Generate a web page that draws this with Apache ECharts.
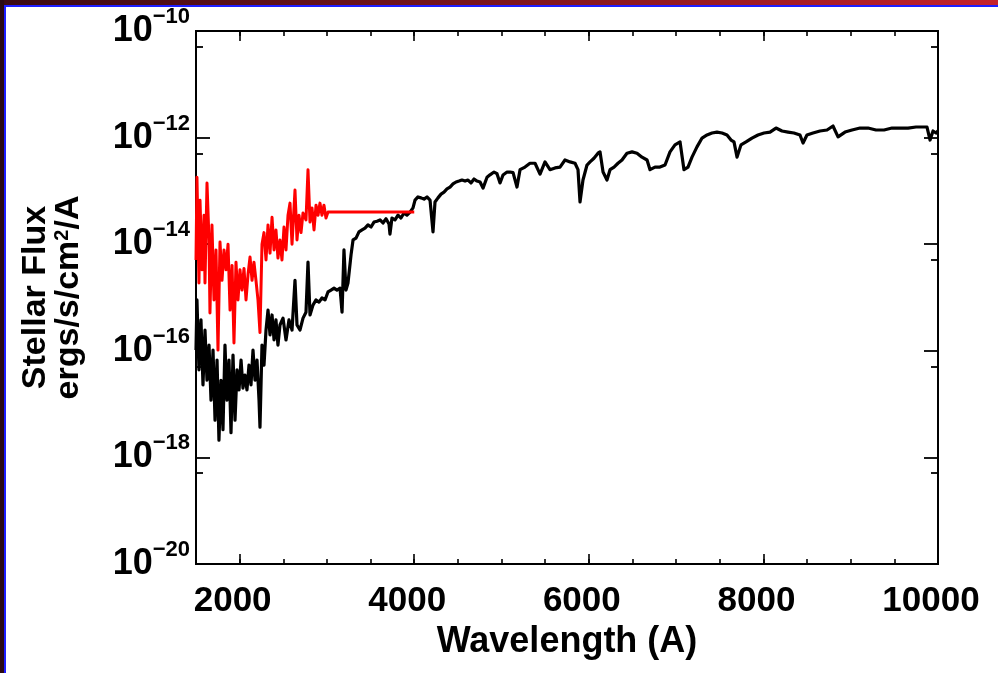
<!DOCTYPE html>
<html><head><meta charset="utf-8">
<script src="https://cdn.jsdelivr.net/npm/echarts@6/dist/echarts.min.js"></script>
<style>html,body{margin:0;padding:0;background:#fff}#c{width:998px;height:673px}</style>
</head><body><div id="c"></div>
<script>
// ---- data ----
const wavelengthBlack = [1500,1511,1534,1557,1580,1603,1626,1649,1672,1695,1718,1741,1763,1786,1809,1832,1855,1878,1901,1924,1947,1970,1993,2016,2038,2061,2084,2107,2130,2153,2176,2199,2222,2233,2256,2279,2302,2325,2348,2371,2394,2416,2439,2462,2497,2531,2565,2600,2634,2657,2691,2726,2760,2783,2806,2840,2875,2909,2943,2978,3012,3047,3081,3115,3150,3173,3195,3218,3241,3276,3299,3333,3367,3402,3436,3470,3505,3539,3574,3608,3642,3677,3711,3722,3745,3780,3814,3848,3883,3917,3952,3986,4009,4043,4078,4112,4146,4181,4215,4238,4272,4307,4341,4375,4410,4444,4479,4513,4547,4582,4616,4650,4685,4719,4754,4788,4834,4868,4914,4948,4983,5017,5063,5097,5132,5177,5212,5269,5326,5384,5441,5498,5555,5613,5670,5727,5785,5842,5876,5899,5933,5979,6014,6059,6105,6128,6163,6208,6243,6289,6334,6380,6437,6495,6552,6609,6667,6701,6758,6815,6873,6930,6987,7045,7090,7136,7182,7239,7297,7354,7411,7468,7526,7583,7629,7663,7698,7743,7801,7869,7938,8007,8076,8144,8213,8282,8350,8419,8454,8499,8568,8648,8729,8797,8855,8935,9015,9107,9198,9290,9382,9473,9565,9657,9748,9829,9874,9909,9943,9977,10000];
const fluxBlack = [1.03e-16,9.0e-16,4.4e-17,3.8e-16,2.3e-17,2.45e-16,2.8e-17,1.28e-16,1.19e-17,1.03e-16,5.0e-18,6.7e-17,2.1e-18,2.8e-17,3.3e-18,1.28e-16,1.19e-17,6.7e-17,2.9e-18,8.3e-17,5.0e-18,4.4e-17,1.84e-17,6.7e-17,2.0e-17,3.5e-17,1.84e-17,5.4e-17,2.3e-17,1.03e-16,2.8e-17,6.7e-17,1.19e-17,3.7e-18,1.28e-16,5.4e-17,2.45e-16,5.8e-16,1.98e-16,4.7e-16,1.6e-16,3.8e-16,1.28e-16,3.05e-16,4.1e-16,1.6e-16,3.8e-16,2.45e-16,2.1e-15,3.05e-16,2.45e-16,4.1e-16,5.3e-16,4.6e-15,4.7e-16,7.2e-16,9.0e-16,8.2e-16,9.8e-16,9.0e-16,1.27e-15,1.38e-15,1.5e-15,1.38e-15,1.5e-15,5.3e-16,7.8e-15,1.38e-15,1.87e-15,6.3e-15,1.2e-14,1.3e-14,1.7e-14,1.85e-14,2.0e-14,2.3e-14,2.1e-14,2.6e-14,2.7e-14,2.85e-14,2.5e-14,3.0e-14,2.4e-14,1.55e-14,3.1e-14,2.85e-14,3.5e-14,3.1e-14,3.85e-14,3.5e-14,4.0e-14,4.8e-14,6.7e-14,7.7e-14,7.4e-14,7.0e-14,7.7e-14,6.7e-14,1.7e-14,6.2e-14,7.4e-14,8.7e-14,9.5e-14,1.09e-13,1.18e-13,1.35e-13,1.47e-13,1.53e-13,1.6e-13,1.53e-13,1.6e-13,1.41e-13,1.67e-13,1.53e-13,1.47e-13,1.13e-13,1.8e-13,2.0e-13,2.26e-13,2.1e-13,1.41e-13,1.99e-13,2.26e-13,2.26e-13,2.2e-13,1.18e-13,2.5e-13,2.8e-13,3.3e-13,3.3e-13,2.07e-13,3.5e-13,2.5e-13,2.7e-13,2.8e-13,3.8e-13,3.5e-13,3.3e-13,2.5e-13,6.2e-14,1.6e-13,3.06e-13,3.5e-13,4.1e-13,5.1e-13,5.4e-13,2.26e-13,1.6e-13,2.5e-13,2.8e-13,3.3e-13,3.8e-13,5.1e-13,5.4e-13,5.1e-13,4.3e-13,3.8e-13,2.5e-13,2.8e-13,2.8e-13,3.06e-13,5.4e-13,7.3e-13,8.3e-13,2.5e-13,2.8e-13,4.3e-13,6.7e-13,9.8e-13,1.12e-12,1.22e-12,1.27e-12,1.22e-12,1.12e-12,9.0e-13,8.3e-13,4.3e-13,7.3e-13,8.3e-13,9.8e-13,1.12e-12,1.22e-12,1.27e-12,1.51e-12,1.33e-12,1.27e-12,1.22e-12,1.12e-12,7.9e-13,1.12e-12,1.22e-12,1.33e-12,1.39e-12,1.65e-12,1.03e-12,1.27e-12,1.39e-12,1.51e-12,1.51e-12,1.39e-12,1.39e-12,1.51e-12,1.51e-12,1.51e-12,1.58e-12,1.58e-12,1.58e-12,9.0e-13,1.33e-12,1.22e-12,1.33e-12];

const wavelengthRed = [1500,1511,1534,1546,1569,1592,1603,1626,1649,1660,1683,1706,1729,1752,1775,1798,1821,1844,1867,1890,1913,1935,1958,1981,2004,2027,2050,2073,2096,2119,2142,2164,2187,2210,2233,2256,2279,2302,2325,2348,2371,2394,2416,2439,2462,2485,2508,2531,2554,2577,2600,2634,2657,2680,2703,2726,2760,2783,2806,2829,2852,2875,2898,2920,2943,2966,2989,3012,4000];
const fluxRed = [5.05e-15,1.8e-13,1.87e-15,6.7e-14,3.3e-15,3.5e-14,1.87e-15,1.41e-13,1.2e-14,5.1e-16,2.3e-14,9.0e-16,7.8e-15,1.03e-16,1.1e-14,2.1e-15,7.8e-15,3.3e-15,1.0e-14,5.8e-16,4.0e-15,1.4e-16,4.6e-15,9.0e-16,3.3e-15,1.38e-15,3.5e-15,9.0e-16,2.7e-15,5.75e-15,2.1e-15,4.6e-15,2.1e-15,9.0e-16,2.2e-16,1.0e-14,1.65e-14,5.05e-15,2.3e-14,6.8e-15,3.2e-14,7.8e-15,1.85e-14,5.5e-15,1.2e-14,5.05e-15,2.1e-14,7.8e-15,3.5e-14,5.9e-14,1.0e-14,1.04e-13,1.2e-14,3.5e-14,1.65e-14,3.85e-14,2.85e-14,2.5e-13,2.6e-14,4.8e-14,1.85e-14,5.4e-14,3.5e-14,5.9e-14,3.5e-14,5.4e-14,3.1e-14,4.0e-14,4.0e-14];

const xTickLabels = [2000, 4000, 6000, 8000, 10000];
const xMinorStep = 500;
const yRange = [1e-20, 1e-10];
const xRange = [1500, 10000];

// ---- chart ----
const FONT = 'Liberation Sans';
const chart = echarts.init(document.getElementById('c'), null, {renderer: 'canvas'});

function yLabel(v) {
  const e = Math.round(Math.log10(v));
  return '{b|10}{s|\u2212' + Math.abs(e) + '}';
}
const yRich = {
  b: {fontSize: 36, fontWeight: 'bold', fontFamily: FONT, color: '#000', lineHeight: 50},
  s: {fontSize: 22, fontWeight: 'bold', fontFamily: FONT, color: '#000', verticalAlign: 'top', lineHeight: 22}
};
const axisLine = {show: true, onZero: false, lineStyle: {color: '#000', width: 2}};

function xAxisDef(pos, withLabels, tickLen, custom) {
  const a = {
    type: 'value', position: pos, min: xRange[0], max: xRange[1], interval: xMinorStep,
    axisLine: axisLine,
    axisTick: {show: true, inside: true, length: tickLen, lineStyle: {color: '#000', width: 1.6}},
    axisLabel: {show: false},
    splitLine: {show: false}
  };
  if (custom) a.axisTick.customValues = xTickLabels;
  if (withLabels) {
    a.axisLabel = {
      show: true, margin: 20, color: '#000', fontSize: 35, fontWeight: 'bold', fontFamily: FONT,
      padding: [0, 14, 0, 0],
      formatter: v => xTickLabels.indexOf(v) >= 0 ? String(v) : ''
    };
    a.name = 'Wavelength (A)';
    a.nameLocation = 'middle';
    a.nameGap = 58;
    a.nameTextStyle = {color: '#000', fontSize: 36, fontWeight: 'bold', fontFamily: FONT};
  }
  return a;
}
function yAxisDef(pos, withLabels) {
  const a = {
    type: 'log', logBase: 10, position: pos, min: yRange[0], max: yRange[1], interval: 2,
    axisLine: axisLine,
    axisTick: {show: true, inside: true, length: 14, lineStyle: {color: '#000', width: 1.8}},
    minorTick: {show: true, splitNumber: 2, length: 7, lineStyle: {color: '#000', width: 1.8}},
    axisLabel: {show: false},
    splitLine: {show: false},
    minorSplitLine: {show: false}
  };
  if (withLabels) {
    a.axisLabel = {show: true, margin: 6, formatter: yLabel, rich: yRich};
    a.name = '{t|Stellar Flux}\n{t|ergs/s/cm}{u|2}{t|/A}';
    a.nameLocation = 'middle';
    a.nameRotate = 90;
    a.nameGap = 111;
    a.nameTextStyle = {
      rich: {
        t: {fontSize: 34, fontWeight: 'bold', fontFamily: FONT, color: '#000', lineHeight: 33},
        u: {fontSize: 20, fontWeight: 'bold', fontFamily: FONT, color: '#000', verticalAlign: 'top', lineHeight: 20}
      }
    };
  }
  return a;
}

chart.setOption({
  backgroundColor: '#ffffff',
  animation: false,
  grid: {left: 196, right: 60, top: 31, bottom: 109, containLabel: false},
  xAxis: [
    xAxisDef('bottom', true, 5, false),
    xAxisDef('top', false, 5, false),
    xAxisDef('bottom', false, 10, true),
    xAxisDef('top', false, 10, true)
  ],
  yAxis: [yAxisDef('left', true), yAxisDef('right', false)],
  series: [
    {
      type: 'line', xAxisIndex: 0, yAxisIndex: 0, showSymbol: false, symbol: 'none',
      data: wavelengthBlack.map((w, i) => [w, fluxBlack[i]]),
      lineStyle: {color: '#000', width: 3.2, join: 'round'}, z: 3
    },
    {
      type: 'line', xAxisIndex: 0, yAxisIndex: 0, showSymbol: false, symbol: 'none',
      data: wavelengthRed.map((w, i) => [w, fluxRed[i]]),
      lineStyle: {color: '#ff0000', width: 3, join: 'round'}, z: 4
    }
  ],
  graphic: [
    {type: 'rect', left: 0, top: 0, shape: {width: 998, height: 5}, silent: true,
     style: {fill: new echarts.graphic.LinearGradient(0, 0, 1, 0, [{offset: 0, color: '#3a0a12'}, {offset: 0.6, color: '#8a1820'}, {offset: 1, color: '#c4222c'}])}},
    {type: 'rect', left: 0, top: 5, shape: {width: 998, height: 2}, silent: true, style: {fill: '#1e1eff'}},
    {type: 'rect', left: 0, top: 0, shape: {width: 4, height: 673}, silent: true, style: {fill: '#2a0a12'}},
    {type: 'rect', left: 4, top: 5, shape: {width: 2, height: 668}, silent: true, style: {fill: '#1e1eff'}}
  ]
});
</script></body></html>
